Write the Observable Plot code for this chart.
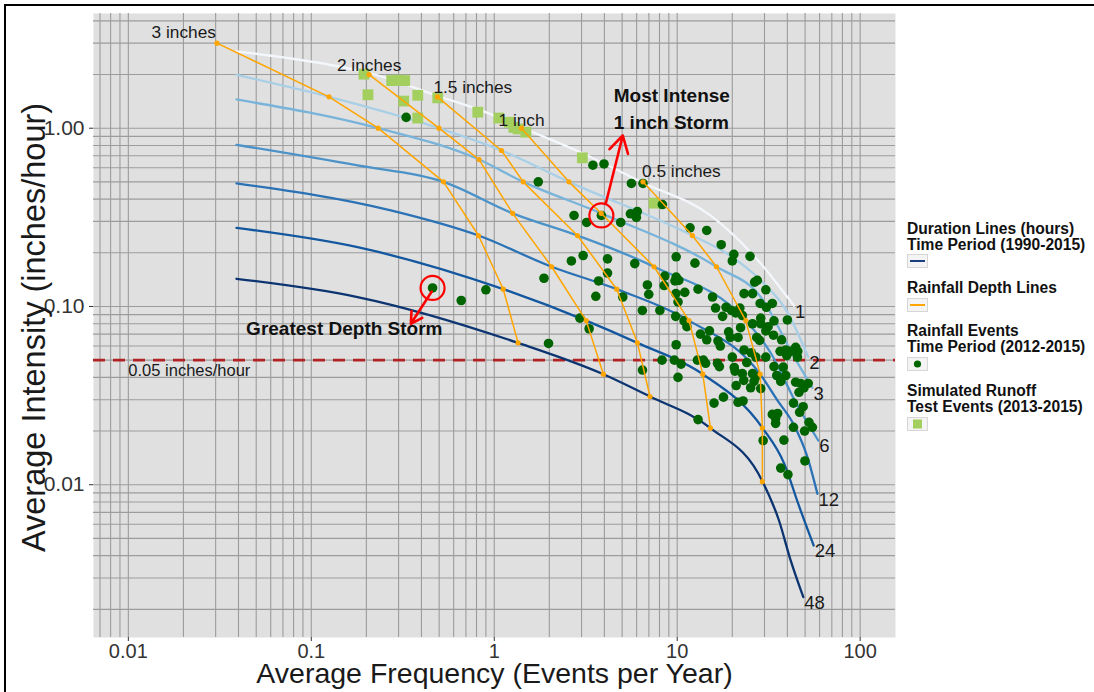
<!DOCTYPE html>
<html><head><meta charset="utf-8">
<script src="https://cdn.jsdelivr.net/npm/d3@7"></script>
<script src="https://cdn.jsdelivr.net/npm/@observablehq/plot@0.6"></script>
<style>
body{margin:0;background:#fff;font-family:"Liberation Sans",Arial,sans-serif;}
#wrap{position:relative;width:1094px;height:692px;overflow:hidden;background:#fff;}
#chart{position:absolute;left:0;top:0;}
#frame{position:absolute;left:4px;top:4px;width:1200px;height:800px;border-left:2.5px solid #000;border-top:2px solid #000;pointer-events:none;}
.lg{position:absolute;left:907px;font-weight:bold;font-size:15.6px;line-height:16px;color:#111;white-space:nowrap;}
.key{position:absolute;left:907px;width:21px;height:14px;background:#f4f4f4;border:1px solid #d6d6d6;box-sizing:border-box;}
</style></head><body>
<div id="wrap"><div id="chart"></div><div id="legend"></div><div id="frame"></div></div>
<script>
// ---- scales / ticks ----
const xDomain = [0.00645, 156];
const yDomain = [0.00139, 4.4];
const xTickValues = [0.01, 0.1, 1, 10, 100];
const xTickLabels = ["0.01", "0.1", "1", "10", "100"];
const yTickValues = [0.01, 0.1, 1];
const yTickLabels = ["0.01", "0.10", "1.00"];

// ---- duration lines (frequency, intensity) ----
const durationNames = ["1", "2", "3", "6", "12", "24", "48"];
const dur1 = [[0.039,2.70],[0.117,2.30],[0.207,2.04],[0.489,1.52],[0.957,1.20],[1.41,1.01],[2.97,0.731],[6.50,0.494],[15.2,0.324],[28.6,0.174],[40.0,0.113],[43.5,0.101]];
const dur2 = [[0.039,1.99],[0.125,1.50],[0.499,1.00],[1.095,0.75],[2.56,0.50],[12.1,0.25],[18.7,0.198],[28.6,0.140],[40.0,0.093],[52.0,0.052]];
const dur3 = [[0.039,1.45],[0.232,1.00],[0.826,0.667],[1.44,0.50],[3.84,0.333],[16.4,0.167],[28.6,0.113],[43.6,0.052],[54.8,0.035]];
const dur6 = [[0.039,0.807],[0.179,0.618],[0.528,0.50],[1.26,0.333],[2.85,0.25],[7.47,0.167],[23.7,0.0833],[32.4,0.055],[43.9,0.0297],[59.0,0.0177]];
const dur12 = [[0.039,0.49],[0.272,0.346],[0.82,0.25],[2.06,0.167],[4.67,0.125],[11.6,0.0833],[28.4,0.0417],[35.3,0.0297],[43.6,0.0215],[51.5,0.0143],[58.4,0.0089]];
const dur24 = [[0.039,0.276],[0.179,0.215],[1.12,0.125],[3.18,0.0833],[6.06,0.0625],[13.8,0.0417],[29.3,0.0208],[38.5,0.0131],[46.1,0.0077],[55.7,0.00456]];
const dur48 = [[0.039,0.143],[0.179,0.113],[1.35,0.0625],[3.95,0.0417],[7.10,0.03125],[15.2,0.0208],[29.3,0.0104],[36.0,0.0063],[41.7,0.00376],[48.9,0.00234]];
const durationColors = ["#f3f6fb", "#a9cfe6", "#78b3da", "#4a92c8", "#2a72b5", "#13579f", "#0b3470"];

// ---- rainfall depth lines (frequency, intensity) ----
const depthNames = ["3 inches", "2 inches", "1.5 inches", "1 inch", "0.5 inches"];
const depth3 = [[0.0305,3],[0.125,1.5],[0.232,1.0],[0.528,0.5],[0.82,0.25],[1.12,0.125],[1.35,0.0625]];
const depth2 = [[0.207,2],[0.499,1],[0.826,0.667],[1.26,0.333],[2.06,0.167],[3.18,0.0833],[3.95,0.0417]];
const depth15 = [[0.489,1.5],[1.095,0.75],[1.44,0.5],[2.85,0.25],[4.67,0.125],[6.06,0.0625],[7.10,0.03125]];
const depth1 = [[1.41,1],[2.56,0.5],[3.84,0.333],[7.47,0.167],[11.6,0.0833],[13.8,0.0417],[15.2,0.0208]];
const depth05 = [[6.50,0.5],[12.1,0.25],[16.4,0.167],[23.7,0.0833],[28.4,0.0417],[29.2,0.0208],[29.2,0.0104]];

// ---- rainfall events 2012-2015 ----
const eventFreq = [0.33,0.46,0.66,0.90,1.74,1.98,1.87,3.46,3.98,5.62,6.50,8.3,2.73,3.20,3.85,4.91,5.55,6.05,5.98,2.64,3.06,4.16,4.16,5.86,9.87,3.72,8.55,9.87,11.75,14.5,17.4,25.0,20.4,20.0,12.5,3.59,5.04,6.45,8.04,6.87,6.99,8.48,9.72,10.2,9.84,10.1,11.0,13.0,15.6,16.2,17.7,18.5,19.8,20.9,22.0,9.81,10.9,11.3,2.94,3.30,9.87,10.5,13.4,15.0,14.5,16.7,17.2,19.1,19.5,21.5,22.2,23.2,26.5,27.4,30.5,28.4,30.7,33.1,28.6,25.8,33.8,31.4,33.6,27.2,28.2,37.2,40.0,36.5,39.2,41.7,44.4,45.6,45.4,39.7,30.5,26.9,25.4,23.2,24.0,27.2,28.6,20.0,20.5,20.7,22.7,23.1,21.0,25.8,26.3,25.2,33.8,35.0,38.0,39.2,36.8,44.4,47.3,49.3,46.3,52.0,43.2,48.8,46.7,15.9,17.9,21.5,22.9,13.0,6.46,8.26,9.65,10.1,12.9,13.9,14.3,16.6,17.0,33.1,35.4,34.5,34.5,43.2,52.5,54.8,49.7,29.5,38.3,49.9,36.8,40.3,22.7,28.6,30.5,25.8];
const eventIntensity = [1.15,0.127,0.108,0.124,0.50,0.062,0.144,0.62,0.63,0.49,0.49,0.373,0.324,0.296,0.324,0.296,0.331,0.341,0.316,0.180,0.193,0.185,0.154,0.174,0.190,0.139,0.148,0.146,0.276,0.267,0.222,0.191,0.196,0.180,0.175,0.114,0.113,0.095,0.095,0.132,0.117,0.131,0.139,0.140,0.118,0.106,0.120,0.125,0.113,0.098,0.088,0.099,0.095,0.092,0.098,0.088,0.083,0.077,0.086,0.075,0.061,0.0475,0.070,0.073,0.065,0.064,0.060,0.072,0.067,0.067,0.076,0.118,0.137,0.140,0.124,0.104,0.099,0.104,0.086,0.080,0.083,0.077,0.069,0.067,0.0645,0.065,0.084,0.056,0.057,0.056,0.059,0.056,0.052,0.053,0.052,0.052,0.055,0.057,0.0485,0.0405,0.0346,0.052,0.0455,0.0434,0.042,0.0385,0.036,0.042,0.038,0.035,0.046,0.041,0.0457,0.041,0.038,0.0376,0.037,0.035,0.033,0.037,0.0287,0.0274,0.0255,0.0287,0.031,0.029,0.0295,0.0232,0.044,0.050,0.050,0.040,0.050,0.050,0.048,0.048,0.046,0.0248,0.0251,0.0235,0.0221,0.021,0.0224,0.021,0.020,0.0177,0.0178,0.0136,0.0124,0.0114,0.089,0.080,0.073,0.118];

// ---- simulated runoff test events 2013-2015 ----
const simFreq = [0.194,0.204,0.275,0.301,0.324,0.320,0.382,0.382,0.491,0.813,1.06,1.21,1.28,1.35,1.49,3.03,7.47];
const simIntensity = [2.01,1.54,1.85,1.86,1.85,1.42,1.53,1.14,1.48,1.23,1.14,1.08,1.01,0.99,0.95,0.682,0.38];

// ---- annotations ----
const thresholdValue = 0.05;
const thresholdLabel = {f: 0.01, i: 0.0438, t: "0.05 inches/hour"};
const highlightStorms = [{f: 3.85, i: 0.324}, {f: 0.46, i: 0.127}];
const arrows = [{x1: 4.07, y1: 0.378, x2: 5.04, y2: 0.91}, {x1: 0.4555, y1: 0.1213, x2: 0.35, y2: 0.080}];
const intenseNote = [{f: 4.5, i: 1.525, t: "Most Intense"}, {f: 4.5, i: 1.076, t: "1 inch Storm"}];
const depthNote = [{f: 0.1515, i: 0.0752, t: "Greatest Depth Storm"}];

// ---- build tables ----
const durSets = [dur1, dur2, dur3, dur6, dur12, dur24, dur48];
const durationRows = durSets.flatMap((arr, k) => arr.map(([f, i]) => ({f, i, d: durationNames[k]})));
const durationEnds = durSets.map((arr, k) => ({f: arr[arr.length-1][0], i: arr[arr.length-1][1], d: durationNames[k]}));
const depthSets = [depth3, depth2, depth15, depth1, depth05];
const depthRows = depthSets.flatMap((arr, k) => arr.map(([f, i]) => ({f, i, g: depthNames[k]})));
const events = eventFreq.map((f, k) => ({f, i: eventIntensity[k]}));
const sims = simFreq.map((f, k) => ({f, i: simIntensity[k]}));

const colorOf = new Map(durationNames.map((d, k) => [d, durationColors[k]]));
const xLab = new Map(xTickValues.map((v, k) => [v, xTickLabels[k]]));
const yLab = new Map(yTickValues.map((v, k) => [v, yTickLabels[k]]));
const xGrid = d3.scaleLog().domain(xDomain).ticks();
const yGrid = d3.scaleLog().domain(yDomain).ticks();

const labelAnchor = ["end", "middle", "start", "middle", "start"];
const labelDx = [-1, 0, -4, 0, -1];
const labelDy = [-11, -9, -9, -8, -10];

const txt = "#1a1a1a";
const chart = Plot.plot({
  width: 900, height: 692,
  marginTop: 13, marginLeft: 93, marginRight: 5, marginBottom: 55,
  x: {type: "log", domain: xDomain},
  y: {type: "log", domain: yDomain},
  style: {fontFamily: "'Liberation Sans', Arial, sans-serif", background: "transparent", overflow: "visible"},
  marks: [
    Plot.frame({fill: "#e0e0e0", stroke: null}),
    Plot.gridX(xGrid, {stroke: "#9c9c9c", strokeOpacity: 1, strokeWidth: 1.1}),
    Plot.gridY(yGrid, {stroke: "#9c9c9c", strokeOpacity: 1, strokeWidth: 1.1}),
    Plot.axisX(xTickValues, {tickSize: 4, tickPadding: 2, tickFormat: d => xLab.get(d), fontSize: 20, color: "#333", label: null}),
    Plot.axisY(yTickValues, {tickSize: 4, tickPadding: 5, tickFormat: d => yLab.get(d), fontSize: 21, color: "#333", label: null}),
    Plot.ruleY([thresholdValue], {stroke: "#b22222", strokeWidth: 2.6, strokeDasharray: "12,8"}),
    Plot.line(durationRows, {x: "f", y: "i", z: "d", stroke: d => colorOf.get(d.d), strokeWidth: 2.3, curve: "monotone-x"}),
    Plot.dot(sims, {x: "f", y: "i", symbol: "square", r: 6.1, fill: "#a2cf5e", stroke: null}),
    Plot.dot(events, {x: "f", y: "i", r: 4.8, fill: "#006400", stroke: null}),
    Plot.line(depthRows, {x: "f", y: "i", z: "g", stroke: "#ffa500", strokeWidth: 1.5}),
    Plot.dot(depthRows, {x: "f", y: "i", r: 2.6, fill: "#ffa500", stroke: null}),
    ...depthSets.map((arr, k) => Plot.text([{f: arr[0][0], i: arr[0][1], t: depthNames[k]}], {x: "f", y: "i", text: "t", textAnchor: labelAnchor[k], dx: labelDx[k], dy: labelDy[k], fontSize: 17.3, fill: txt})),
    Plot.text(durationEnds, {x: "f", y: "i", text: "d", textAnchor: "start", dx: 1, dy: 6, fontSize: 18.5, fill: txt}),
    Plot.text([thresholdLabel], {x: "f", y: "i", text: "t", textAnchor: "start", fontSize: 16.5, fill: txt}),
    Plot.dot(highlightStorms, {x: "f", y: "i", r: 12, fill: "none", stroke: "#ff0000", strokeWidth: 2.2}),
    Plot.arrow(arrows, {x1: "x1", y1: "y1", x2: "x2", y2: "y2", stroke: "#ff0000", strokeWidth: 2.6, headLength: 11}),
    Plot.text(intenseNote, {x: "f", y: "i", text: "t", textAnchor: "start", fontSize: 19, fontWeight: "bold", fill: "#111"}),
    Plot.text(depthNote, {x: "f", y: "i", text: "t", textAnchor: "middle", fontSize: 19, fontWeight: "bold", fill: "#111"}),
    Plot.text(["Average Frequency (Events per Year)"], {frameAnchor: "bottom", textAnchor: "middle", lineAnchor: "middle", dy: 36.5, fontSize: 28.5, fill: txt}),
    Plot.text(["Average Intensity (inches/hour)"], {frameAnchor: "left", textAnchor: "middle", lineAnchor: "middle", dx: -59, dy: 2, rotate: -90, fontSize: 32.5, fill: txt})
  ]
});
document.getElementById("chart").appendChild(chart);

// ---- legend ----
const legendBlocks = [
  {lines: ["Duration Lines (hours)", "Time Period (1990-2015)"], top: 220.5, keyTop: 254, key: "line", color: "#1c3f80"},
  {lines: ["Rainfall Depth Lines"], top: 280, keyTop: 298, key: "line", color: "#ffa500"},
  {lines: ["Rainfall Events", "Time Period (2012-2015)"], top: 323, keyTop: 357, key: "dot", color: "#006400"},
  {lines: ["Simulated Runoff", "Test Events (2013-2015)"], top: 382.5, keyTop: 417, key: "square", color: "#a2cf5e"}
];
const lg = document.getElementById("legend");
legendBlocks.forEach(b => {
  const t = document.createElement("div");
  t.className = "lg"; t.style.top = b.top + "px";
  t.innerHTML = b.lines.join("<br>");
  lg.appendChild(t);
  const k = document.createElement("div");
  k.className = "key"; k.style.top = b.keyTop + "px";
  let s = '<svg width="19" height="12" style="position:absolute;left:0;top:0">';
  if (b.key === "line") s += `<line x1="2" x2="17" y1="6" y2="6" stroke="${b.color}" stroke-width="2"/>`;
  if (b.key === "dot") s += `<circle cx="9.5" cy="6" r="3.6" fill="${b.color}"/>`;
  if (b.key === "square") s += `<rect x="5" y="1.5" width="9" height="9" fill="${b.color}"/>`;
  s += '</svg>';
  k.innerHTML = s;
  lg.appendChild(k);
});
</script>
</body></html>
